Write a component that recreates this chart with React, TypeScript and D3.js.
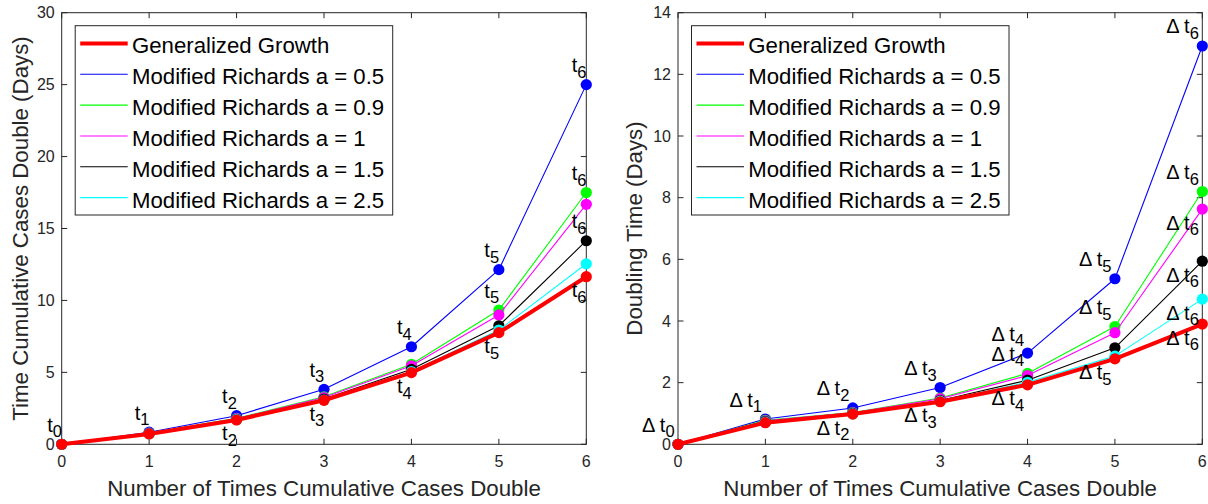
import React from "react";
import * as d3 from "d3";

// ---------- data ----------
const steps = [0, 1, 2, 3, 4, 5, 6];
const seriesNames = [
  "Generalized Growth",
  "Modified Richards a = 0.5",
  "Modified Richards a = 0.9",
  "Modified Richards a = 1",
  "Modified Richards a = 1.5",
  "Modified Richards a = 2.5",
];
const seriesColors = ["#ff0000", "#0000ff", "#00ff00", "#ff00ff", "#000000", "#00ffff"];

// cumulative time for cases to double (left panel)
const cumGG = [0, 0.72, 1.69, 3.06, 4.98, 7.76, 11.65];
const cumMR05 = [0, 0.84, 1.99, 3.82, 6.78, 12.14, 25.0];
const cumMR09 = [0, 0.78, 1.8, 3.3, 5.56, 9.33, 17.5];
const cumMR1 = [0, 0.77, 1.78, 3.25, 5.46, 8.99, 16.68];
const cumMR15 = [0, 0.75, 1.74, 3.15, 5.21, 8.24, 14.15];
const cumMR25 = [0, 0.73, 1.71, 3.08, 5.06, 7.94, 12.55];

// doubling time (right panel)
const dblGG = [0, 0.7, 0.98, 1.38, 1.93, 2.77, 3.9];
const dblMR05 = [0, 0.82, 1.18, 1.84, 2.96, 5.37, 12.92];
const dblMR09 = [0, 0.78, 1.03, 1.5, 2.3, 3.82, 8.2];
const dblMR1 = [0, 0.76, 1.02, 1.48, 2.23, 3.62, 7.63];
const dblMR15 = [0, 0.74, 1.0, 1.42, 2.08, 3.13, 5.94];
const dblMR25 = [0, 0.72, 0.99, 1.4, 2.01, 2.86, 4.71];

const leftYTicks = [0, 5, 10, 15, 20, 25, 30];
const rightYTicks = [0, 2, 4, 6, 8, 10, 12, 14];
const xTicks = [0, 1, 2, 3, 4, 5, 6];

// annotation labels: [seriesIndex, pointIndex, "above" | "below"]
const cumLabels: [number, number, string][] = [
  [1, 0, "above"], [1, 1, "above"], [1, 2, "above"], [1, 3, "above"], [1, 4, "above"], [1, 5, "above"], [1, 6, "above"],
  [0, 2, "below"], [0, 3, "below"], [0, 4, "below"], [0, 5, "below"], [0, 6, "below"],
  [2, 5, "above"], [2, 6, "above"], [4, 6, "above"],
];
const dblLabels: [number, number, string][] = [
  [1, 0, "above"], [1, 1, "above"], [1, 2, "above"], [1, 3, "above"], [1, 4, "above"], [1, 5, "above"], [1, 6, "above"],
  [0, 2, "below"], [0, 3, "below"], [0, 4, "below"], [0, 5, "below"], [0, 6, "below"],
  [2, 4, "above"], [2, 5, "above"], [2, 6, "above"],
  [3, 6, "below"], [4, 6, "below"], [5, 6, "below"],
];

const FONT = "'Liberation Sans', Arial, Helvetica, sans-serif";
const AX = "#262626";

type PanelProps = {
  series: number[][];
  x0: number;
  x1: number;
  yMax: number;
  yTicks: number[];
  yLabel: string;
  yLabelX: number;
  labels: [number, number, string][];
  delta: boolean;
};

function Panel({ series, x0, x1, yMax, yTicks, yLabel, yLabelX, labels, delta }: PanelProps) {
  const top = 12.7;
  const bottom = 444.3;
  const x = d3.scaleLinear().domain([0, 6]).range([x0, x1]);
  const y = d3.scaleLinear().domain([0, yMax]).range([bottom, top]);
  const line = d3
    .line<number>()
    .x((_, i) => x(steps[i]))
    .y((d) => y(d));
  const tl = 5.5;
  const drawOrder = [1, 2, 3, 4, 5, 0];
  const legX = x0 + 13.5;
  const legW = 317.5;
  const legTop = 25.7;
  const legBottom = 215;
  return (
    <g>
      {/* axes box */}
      <rect x={x0} y={top} width={x1 - x0} height={bottom - top} fill="none" stroke={AX} strokeWidth={1} />
      {xTicks.map((t) => (
        <g key={"xt" + t}>
          <line x1={x(t)} x2={x(t)} y1={bottom} y2={bottom - tl} stroke={AX} />
          <line x1={x(t)} x2={x(t)} y1={top} y2={top + tl} stroke={AX} />
          <text x={x(t)} y={bottom + 23} textAnchor="middle" fontSize={16} fill={AX} fontFamily={FONT}>
            {t}
          </text>
        </g>
      ))}
      {yTicks.map((t) => (
        <g key={"yt" + t}>
          <line x1={x0} x2={x0 + tl} y1={y(t)} y2={y(t)} stroke={AX} />
          <line x1={x1} x2={x1 - tl} y1={y(t)} y2={y(t)} stroke={AX} />
          <text x={x0 - 7} y={y(t) + 5.7} textAnchor="end" fontSize={16} fill={AX} fontFamily={FONT}>
            {t}
          </text>
        </g>
      ))}
      <text
        x={(x0 + x1) / 2}
        y={496}
        textAnchor="middle"
        fontSize={22.3}
        fill={AX}
        fontFamily={FONT}
      >
        Number of Times Cumulative Cases Double
      </text>
      <text
        transform={`translate(${yLabelX},${(top + bottom) / 2}) rotate(-90)`}
        textAnchor="middle"
        fontSize={22.3}
        fill={AX}
        fontFamily={FONT}
      >
        {yLabel}
      </text>
      {/* series */}
      {drawOrder.map((s) => (
        <g key={"s" + s}>
          <path d={line(series[s]) || ""} fill="none" stroke={seriesColors[s]} strokeWidth={s === 0 ? 4 : 1.1} strokeLinejoin="round" />
          {series[s].map((v, i) => (
            <circle key={i} cx={x(steps[i])} cy={y(v)} r={5.6} fill={seriesColors[s]} />
          ))}
        </g>
      ))}
      {/* annotations */}
      {labels.map(([s, i, pos], k) => {
        const px = x(steps[i]);
        const py = y(series[s][i]);
        const lx = px - (delta ? 36 : 14.5);
        const ly = pos === "above" ? py - 12.5 : py + 20.5;
        return (
          <text key={"lab" + k} x={lx} y={ly} fontSize={20} fill="#000" fontFamily={FONT}>
            {delta ? "Δ t" : "t"}
            <tspan dy={5.5} fontSize={16.5}>
              {i}
            </tspan>
          </text>
        );
      })}
      {/* legend */}
      <rect x={legX} y={legTop} width={legW} height={legBottom - legTop} fill="#fff" stroke={AX} strokeWidth={1} />
      {seriesNames.map((name, k) => {
        const ly = 43.4 + k * 30.85;
        return (
          <g key={"leg" + k}>
            <line
              x1={legX + 5}
              x2={legX + 52.5}
              y1={ly}
              y2={ly}
              stroke={seriesColors[k]}
              strokeWidth={k === 0 ? 4 : 1.1}
            />
            <text x={legX + 56.8} y={ly + 9.9} fontSize={22.2} fill="#000" fontFamily={FONT}>
              {name}
            </text>
          </g>
        );
      })}
    </g>
  );
}

export default function App() {
  const cumSeries = [cumGG, cumMR05, cumMR09, cumMR1, cumMR15, cumMR25];
  const dblSeries = [dblGG, dblMR05, dblMR09, dblMR1, dblMR15, dblMR25];
  return (
    <div style={{ position: "absolute", left: 0, top: 0 }}>
      <svg width={1208} height={504} viewBox="0 0 1208 504" style={{ display: "block", background: "#fff" }}>
        <rect x={0} y={0} width={1208} height={504} fill="#fff" />
        <Panel
          series={cumSeries}
          x0={61.7}
          x1={586.3}
          yMax={30}
          yTicks={leftYTicks}
          yLabel="Time Cumulative Cases Double (Days)"
          yLabelX={28}
          labels={cumLabels}
          delta={false}
        />
        <Panel
          series={dblSeries}
          x0={678}
          x1={1202.3}
          yMax={14}
          yTicks={rightYTicks}
          yLabel="Doubling Time (Days)"
          yLabelX={642}
          labels={dblLabels}
          delta={true}
        />
      </svg>
    </div>
  );
}
